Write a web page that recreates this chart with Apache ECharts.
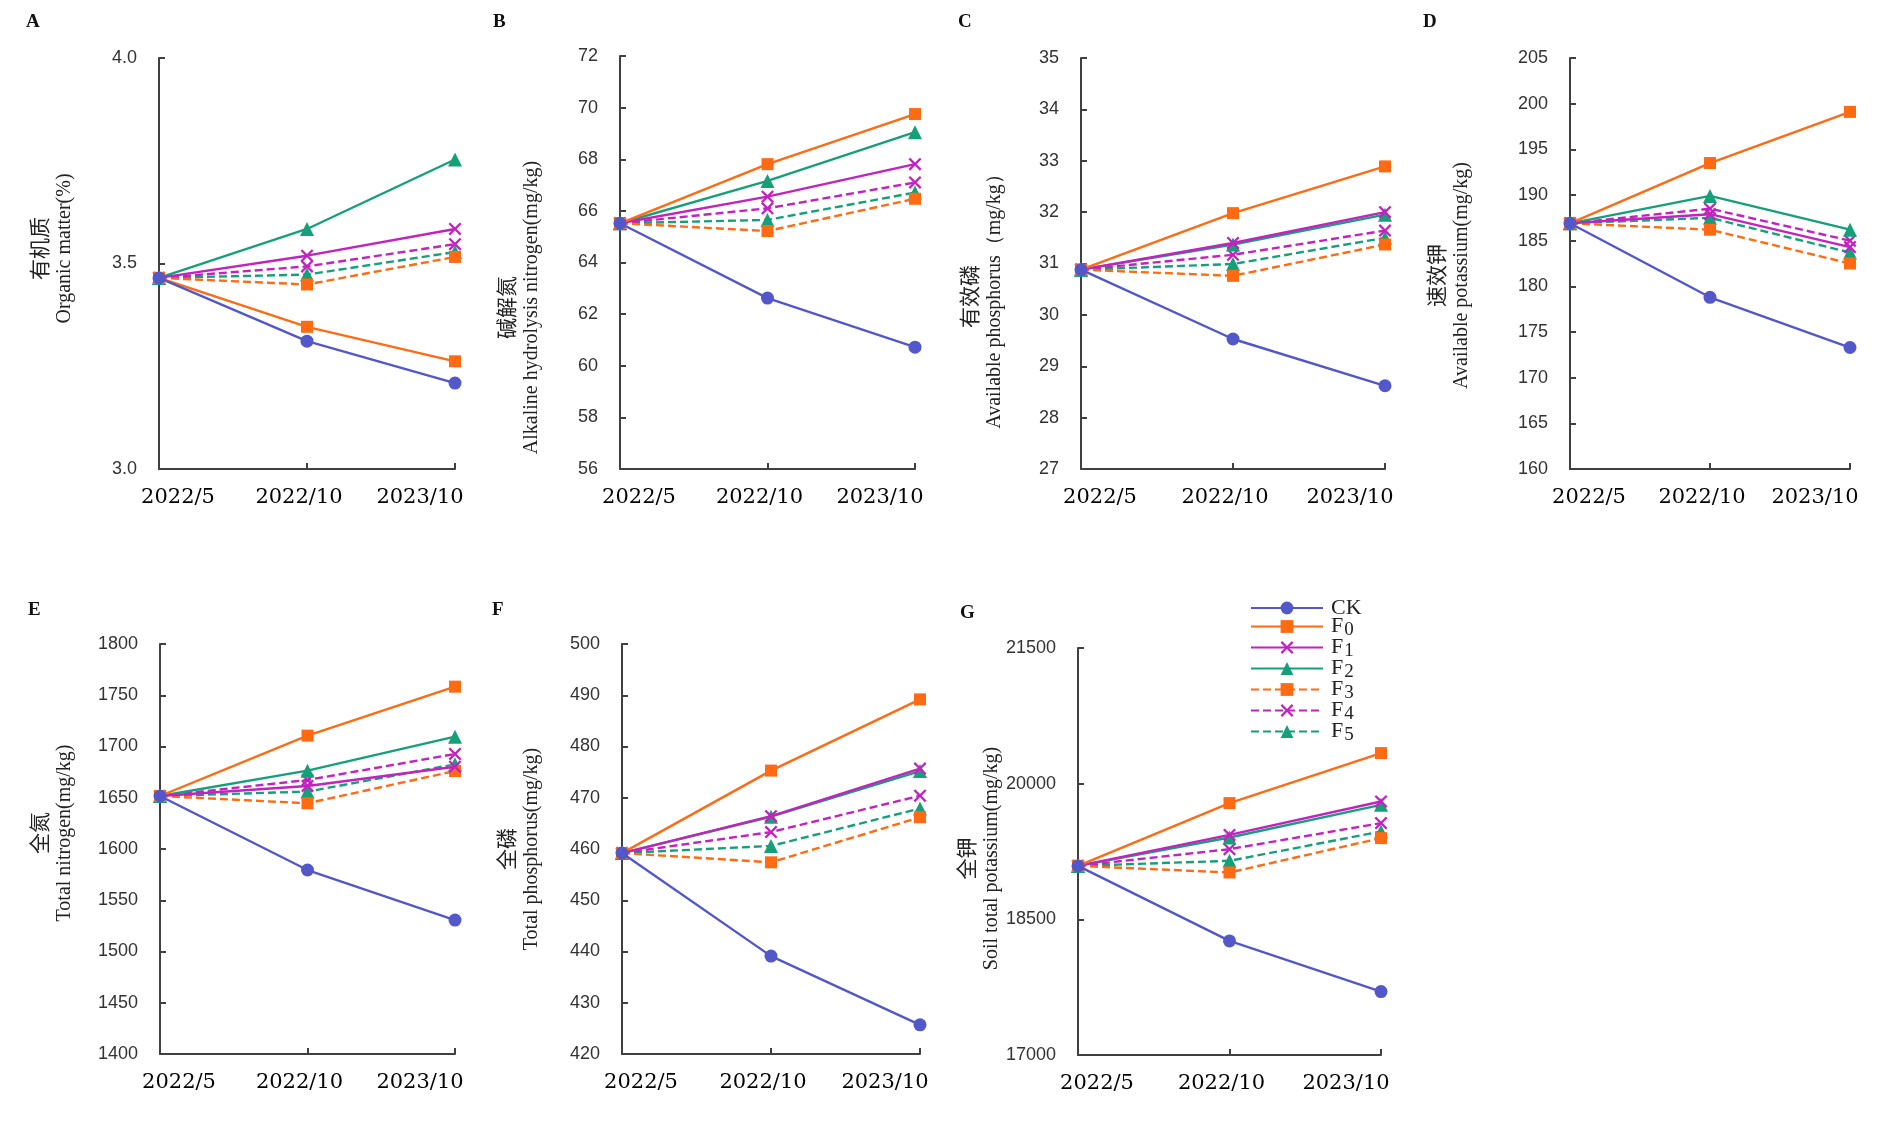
<!DOCTYPE html>
<html><head><meta charset="utf-8">
<script src="https://cdn.jsdelivr.net/npm/echarts@6/dist/echarts.min.js"></script>
<style>html,body{margin:0;padding:0;background:#fff}#c{width:1890px;height:1139px}</style>
</head><body><div id="c"></div>
<script>
// ---------- DATA ----------
const categories = ['2022/5', '2022/10', '2023/10'];
const seriesNames = ['CK', 'F0', 'F1', 'F2', 'F3', 'F4', 'F5'];

// each panel: rows follow seriesNames order, columns follow categories
const organicMatter = [
  [3.465, 3.311, 3.209],
  [3.465, 3.346, 3.262],
  [3.465, 3.519, 3.584],
  [3.465, 3.584, 3.753],
  [3.465, 3.449, 3.516],
  [3.465, 3.493, 3.547],
  [3.465, 3.473, 3.528]
];
const alkaliN = [
  [65.52, 62.62, 60.72],
  [65.52, 67.81, 69.75],
  [65.52, 66.55, 67.81],
  [65.52, 67.16, 69.05],
  [65.52, 65.22, 66.47],
  [65.52, 66.10, 67.10],
  [65.52, 65.65, 66.71]
];
const availP = [
  [30.88, 29.53, 28.62],
  [30.88, 31.98, 32.89],
  [30.88, 31.40, 32.00],
  [30.88, 31.37, 31.95],
  [30.88, 30.76, 31.37],
  [30.88, 31.17, 31.64],
  [30.88, 30.99, 31.50]
];
const availK = [
  [186.9, 178.8, 173.3],
  [186.9, 193.5, 199.1],
  [186.9, 187.9, 184.3],
  [186.9, 189.9, 186.2],
  [186.9, 186.2, 182.5],
  [186.9, 188.5, 185.0],
  [186.9, 187.5, 183.7]
];
const totalN = [
  [1651.7, 1579.5, 1530.7],
  [1651.7, 1710.6, 1758.4],
  [1651.7, 1661.5, 1680.3],
  [1651.7, 1676.4, 1709.6],
  [1651.7, 1644.6, 1676.1],
  [1651.7, 1667.3, 1692.7],
  [1651.7, 1656.0, 1682.6]
];
const totalP = [
  [459.2, 439.1, 425.7],
  [459.2, 475.3, 489.2],
  [459.2, 466.4, 475.7],
  [459.2, 466.3, 475.2],
  [459.2, 457.4, 466.2],
  [459.2, 463.3, 470.4],
  [459.2, 460.6, 467.9]
];
const totalK = [
  [19091, 18261, 17701],
  [19091, 19785, 20338],
  [19091, 19433, 19803],
  [19091, 19405, 19766],
  [19091, 19018, 19398],
  [19091, 19276, 19564],
  [19091, 19147, 19471]
];
const panelData = [organicMatter, alkaliN, availP, availK, totalN, totalP, totalK];

const panelLetters = ['A', 'B', 'C', 'D', 'E', 'F', 'G'];
const cnNames = ['有机质', '碱解氮', '有效磷', '速效钾', '全氮', '全磷', '全钾'];
const enNames = ['Organic matter(%)', 'Alkaline hydrolysis nitrogen(mg/kg)', 'Available phosphorus（mg/kg）',
  'Available potassium(mg/kg)', 'Total nitrogen(mg/kg)', 'Total phosphorus(mg/kg)', 'Soil total potassium(mg/kg)'];
const yMins = [3.0, 56, 27, 160, 1400, 420, 17000];
const yMaxs = [4.0, 72, 35, 205, 1800, 500, 21500];
const yIntervals = [0.5, 2, 1, 5, 50, 10, 1500];
const yDecimals = [1, 0, 0, 0, 0, 0, 0];

// ---------- LAYOUT / STYLE ----------
const grids = [
  {left: 159, top: 58, width: 296, height: 411},
  {left: 620, top: 56, width: 295, height: 413},
  {left: 1081, top: 58, width: 304, height: 411},
  {left: 1570, top: 58, width: 280, height: 411},
  {left: 160, top: 644, width: 295, height: 410},
  {left: 622, top: 644, width: 298, height: 410},
  {left: 1078, top: 648, width: 303, height: 407}
];
const nameGaps = [82, 76, 74, 96, 83, 78, 71];
const nameShift = [-15, 45, 33, 12, -16, 0, 7]; // + = down
const letterPos = [[26, 13], [493, 13], [958, 13], [1423, 13], [28, 601], [492, 601], [960, 604]];
const labelShift = [19, -8, -35];

const XPATH = 'path://M0,1.5L1.5,0L6,4.5L10.5,0L12,1.5L7.5,6L12,10.5L10.5,12L6,7.5L1.5,12L0,10.5L4.5,6Z';
const styles = [
  {color: '#5257c9', symbol: 'circle', size: 13, type: 'solid'},
  {color: '#ff6a12', symbol: 'rect', size: 12, type: 'solid'},
  {color: '#c322c0', symbol: XPATH, size: 13, type: 'solid'},
  {color: '#15a07a', symbol: 'triangle', size: 14, type: 'solid'},
  {color: '#ff6a12', symbol: 'rect', size: 12, type: [8, 4]},
  {color: '#c322c0', symbol: XPATH, size: 13, type: [8, 4]},
  {color: '#15a07a', symbol: 'triangle', size: 14, type: [8, 4]}
];

const AXIS_COLOR = '#404040';
const richX = {};
labelShift.forEach((s, i) => {
  richX['c' + i] = {
    fontFamily: 'DejaVu Serif', fontSize: 21, color: '#000',
    padding: s >= 0 ? [0, 0, 0, 2 * s] : [0, -2 * s, 0, 0]
  };
});

const option = {
  animation: false,
  backgroundColor: '#fff',
  title: panelLetters.map((t, i) => ({
    text: t, left: letterPos[i][0], top: letterPos[i][1], padding: 0,
    textStyle: {fontFamily: 'Liberation Serif', fontWeight: 'bold', fontSize: 19, color: '#111'}
  })),
  legend: {
    orient: 'vertical', left: 1245, top: 592,
    itemWidth: 72, itemHeight: 16, itemGap: -6,
    data: seriesNames,
    formatter: n => n.length === 2 && n[0] === 'F' ? '{n|F}{s|' + n[1] + '}' : '{n|' + n + '}',
    textStyle: {
      padding: [0, 0, 0, 3],
      rich: {
        n: {fontFamily: 'Liberation Serif', fontSize: 22, color: '#222', lineHeight: 20},
        s: {fontFamily: 'Liberation Serif', fontSize: 19, color: '#222', lineHeight: 20, padding: [8, 0, 0, 1]}
      }
    }
  },
  grid: grids.map(g => Object.assign({containLabel: false}, g)),
  xAxis: grids.map((g, i) => ({
    type: 'category', gridIndex: i, data: categories, boundaryGap: false,
    axisLine: {show: true, lineStyle: {color: AXIS_COLOR, width: 2}},
    axisTick: {show: true, inside: true, length: 6, lineStyle: {color: AXIS_COLOR, width: 2}},
    axisLabel: {
      interval: 0, margin: 18,
      formatter: (v, idx) => '{c' + idx + '|' + v + '}',
      rich: richX
    },
    splitLine: {show: false}
  })),
  yAxis: grids.map((g, i) => ({
    type: 'value', gridIndex: i,
    min: yMins[i], max: yMaxs[i], interval: yIntervals[i],
    axisLine: {show: true, lineStyle: {color: AXIS_COLOR, width: 2}},
    axisTick: {show: true, inside: true, length: 6, lineStyle: {color: AXIS_COLOR, width: 2}},
    axisLabel: {
      margin: 22, fontFamily: 'Liberation Sans', fontSize: 18, color: '#333',
      formatter: v => Number(v).toFixed(yDecimals[i])
    },
    splitLine: {show: false},
    name: '{cn|' + cnNames[i] + '}\n{en|' + enNames[i] + '}',
    nameLocation: 'middle', nameRotate: 90, nameGap: nameGaps[i],
    nameTextStyle: {
      padding: nameShift[i] < 0 ? [0, 0, 0, -2 * nameShift[i]] : [0, 2 * nameShift[i], 0, 0],
      rich: {
        cn: {fontFamily: 'Noto Sans CJK SC', fontSize: 21, color: '#222', lineHeight: 28},
        en: {fontFamily: 'Liberation Serif', fontSize: 20, color: '#222', lineHeight: 24}
      }
    }
  })),
  series: []
};

panelData.forEach((rows, p) => {
  rows.forEach((vals, s) => {
    const st = styles[s];
    option.series.push({
      name: seriesNames[s], type: 'line', xAxisIndex: p, yAxisIndex: p,
      data: vals,
      symbol: st.symbol, symbolSize: st.size,
      lineStyle: {color: st.color, width: 2.4, type: st.type},
      itemStyle: {color: st.color, borderWidth: 0},
      z: 10 - s
    });
  });
});

const chart = echarts.init(document.getElementById('c'), null, {renderer: 'canvas'});
chart.setOption(option);
</script></body></html>
